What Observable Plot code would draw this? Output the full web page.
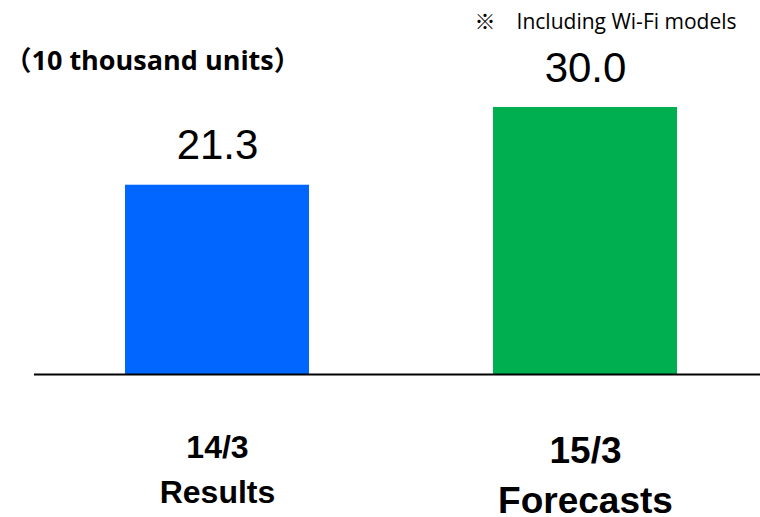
<!DOCTYPE html>
<html>
<head>
<meta charset="utf-8">
<script src="https://cdn.jsdelivr.net/npm/d3@7"></script>
<script src="https://cdn.jsdelivr.net/npm/@observablehq/plot@0.6"></script>
<style>
  html, body { margin: 0; padding: 0; background: #fff; }
  #chart svg { display: block; }
</style>
</head>
<body>
<div id="chart"></div>
<script>
// Fiscal year-end periods and unit sales (10 thousand units)
const categories = ["14/3", "15/3"];
const periods = ["Results", "Forecasts"];
const units = [21.3, 30.0];
const unitLabel = "（10 thousand units）";
const note = "※\u3000Including Wi-Fi models";

const data = categories.map((category, i) => ({
  category,
  period: periods[i],
  value: units[i]
}));

const sans = "'Liberation Sans', Arial, sans-serif";
const label = "'Open Sans', 'Noto Sans CJK JP', sans-serif";

const chart = Plot.plot({
  width: 760,
  height: 517,
  marginLeft: 34,
  marginRight: 0,
  marginTop: 0,
  marginBottom: 0,
  style: { background: "#fff", color: "#000" },
  x: { domain: categories, range: [33, 769], paddingInner: 0.5, paddingOuter: 0.25, axis: null },
  y: { domain: [0, 30], range: [375, 107], axis: null },
  color: { domain: categories, range: ["#0066FF", "#00B050"] },
  marks: [
    Plot.barY(data, { x: "category", y: "value", fill: "category" }),
    Plot.ruleY([0], { stroke: "#000", strokeWidth: 2, dy: -1 }),
    // value labels above the bars
    Plot.text(data, {
      x: "category", y: "value",
      text: d => d.value.toFixed(1),
      lineAnchor: "bottom", dy: -26,
      fontSize: 42, fontFamily: sans, fill: "#000"
    }),
    // period labels below the axis
    Plot.text(data.filter(d => d.category === categories[0]), {
      x: "category", frameAnchor: "bottom",
      text: d => `${d.category}\n${d.period}`,
      lineAnchor: "bottom", lineHeight: 1.4, dy: -15,
      fontSize: 32, fontWeight: "bold", fontFamily: sans, fill: "#000"
    }),
    Plot.text(data.filter(d => d.category === categories[1]), {
      x: "category", frameAnchor: "bottom",
      text: d => `${d.category}\n${d.period}`,
      lineAnchor: "bottom", lineHeight: 1.35, dy: -5,
      fontSize: 37, fontWeight: "bold", fontFamily: sans, fill: "#000"
    }),
    // unit caption, top left
    Plot.text([unitLabel], {
      frameAnchor: "top-left", text: d => d,
      textAnchor: "start", lineAnchor: "bottom",
      dx: -30, dy: 69,
      fontSize: 27, fontWeight: "bold", fontFamily: label, fill: "#000"
    }),
    // footnote, top right
    Plot.text([note], {
      frameAnchor: "top-right", text: d => d,
      textAnchor: "end", lineAnchor: "bottom",
      dx: -24, dy: 28,
      fontSize: 21, fontFamily: label, fill: "#000"
    })
  ]
});

document.getElementById("chart").append(chart);
</script>
</body>
</html>
